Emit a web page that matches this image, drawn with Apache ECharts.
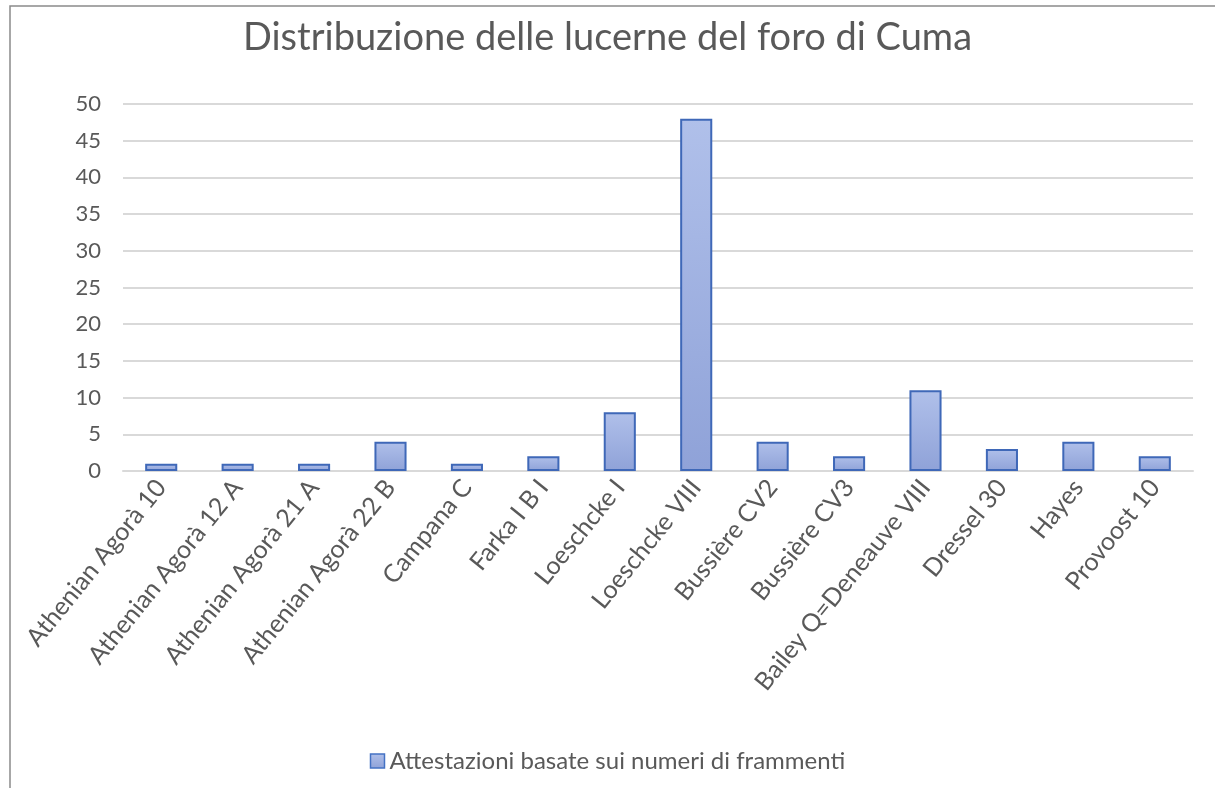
<!DOCTYPE html>
<html>
<head>
<meta charset="utf-8">
<script src="https://cdn.jsdelivr.net/npm/echarts@6/dist/echarts.min.js"></script>
<style>
  html, body { margin: 0; padding: 0; background: #fff; }
  #chart { width: 1215px; height: 788px; }
</style>
</head>
<body>
<div id="chart"></div>
<script>
// Lamp types found in the Cuma forum and fragment counts
const categories = [
  'Athenian Agorà 10', 'Athenian Agorà 12 A', 'Athenian Agorà 21 A', 'Athenian Agorà 22 B',
  'Campana C', 'Farka I B I', 'Loeschcke I', 'Loeschcke VIII', 'Bussière CV2', 'Bussière CV3',
  'Bailey Q=Deneauve VIII', 'Dressel 30', 'Hayes', 'Provoost 10'
];
const fragmentCounts = [1, 1, 1, 4, 1, 2, 8, 48, 4, 2, 11, 3, 4, 2];
const seriesName = 'Attestazioni basate sui numeri di frammenti';
const chartTitle = 'Distribuzione delle lucerne del foro di Cuma';

const FONT = 'Lato, "Noto Sans", sans-serif';
const TEXT = '#595959';

const barFill = new echarts.graphic.LinearGradient(0, 0, 0, 1, [
  { offset: 0, color: '#b0c0ea' },
  { offset: 1, color: '#8fa2d8' }
]);

const chart = echarts.init(document.getElementById('chart'));
chart.setOption({
  backgroundColor: '#ffffff',
  animation: false,
  title: {
    text: chartTitle,
    left: 'center',
    top: 14,
    textStyle: { fontFamily: FONT, fontSize: 38, fontWeight: 'normal', color: TEXT }
  },
  graphic: [{
    type: 'rect',
    shape: { x: 10, y: 6, width: 1400, height: 1000 },
    style: { fill: 'none', stroke: '#8a8a8a', lineWidth: 1.5 },
    silent: true
  }],
  legend: {
    bottom: 10,
    left: 'center',
    itemWidth: 14,
    itemHeight: 14,
    itemGap: 4,
    textStyle: { fontFamily: FONT, fontSize: 24, color: TEXT },
    data: [{ name: seriesName, icon: 'rect',
      itemStyle: { color: barFill, borderColor: '#4472c4', borderWidth: 1.5 } }]
  },
  grid: { left: 123, right: 22, top: 104, bottom: 317, containLabel: false },
  xAxis: {
    type: 'category',
    data: categories,
    axisLine: { lineStyle: { color: '#d9d9d9', width: 2 } },
    axisTick: { show: false },
    axisLabel: {
      interval: 0, rotate: 51, margin: 12,
      fontFamily: FONT, fontSize: 25, color: TEXT
    }
  },
  yAxis: {
    type: 'value',
    min: 0, max: 50, interval: 5,
    axisLine: { show: false },
    axisTick: { show: false },
    splitLine: { lineStyle: { color: '#d9d9d9', width: 2 } },
    axisLabel: { fontFamily: FONT, fontSize: 22, color: TEXT, margin: 22 }
  },
  series: [{
    name: seriesName,
    type: 'bar',
    data: fragmentCounts,
    barWidth: '42%',
    itemStyle: { color: barFill, borderColor: '#3f68b8', borderWidth: 2 }
  }]
});
</script>
</body>
</html>
